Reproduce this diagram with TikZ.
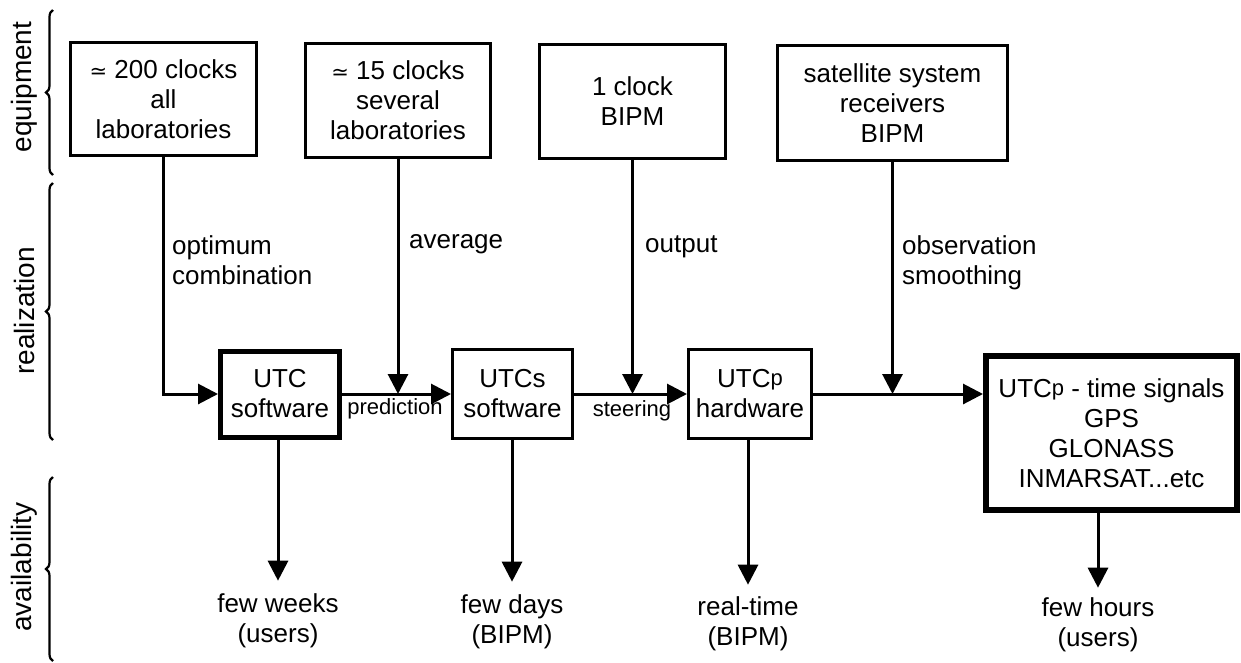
\documentclass[tikz,border=0pt]{standalone}
\usepackage{fontspec}
\setmainfont{Liberation Sans}
\newfontfamily\symfont{DejaVu Sans}
\usetikzlibrary{arrows.meta,decorations.pathreplacing,calc}
\newcommand{\apx}{{\symfont\fontsize{21}{21}\selectfont ≃}}
\newcommand{\subp}{\raisebox{2pt}{\fontsize{22}{22}\selectfont p}}
\begin{document}
\begin{tikzpicture}[x=1pt,y=-1pt,
  box/.style={draw, line width=3pt, align=center, inner sep=0pt, font=\fontsize{26}{30}\selectfont},
  thickbox/.style={box, line width=5pt},
  lbl/.style={inner sep=0pt, align=left, anchor=west, font=\fontsize{26}{30}\selectfont},
  small/.style={inner sep=0pt, font=\fontsize{22}{26}\selectfont},
  outlbl/.style={inner sep=0pt, align=center, font=\fontsize{26}{30}\selectfont},
  side/.style={inner sep=0pt, rotate=90, font=\fontsize{28}{30}\selectfont},
  arr/.style={line width=3pt, -{Triangle[length=20pt,width=20pt]}},
  brc/.style={line width=2.2pt, decorate, decoration={brace, amplitude=7pt}}
]
\useasboundingbox (0,0) rectangle (1241,662);
\fill[white] (0,0) rectangle (1241,662);

% side labels
\node[side] (s1) at (24,87) {equipment};
\node[side] (s2) at (24,311) {realization};
\node[side] (s3) at (24,567) {availability};
\coordinate (e1a) at (53,175); \coordinate (e1b) at (53,10);
\coordinate (e2a) at (53,440); \coordinate (e2b) at (53,183);
\coordinate (e3a) at (53,661); \coordinate (e3b) at (53,477);
\draw[brc] (e1a) -- (e1b);
\draw[brc] (e2a) -- (e2b);
\draw[brc] (e3a) -- (e3b);

% top boxes
\node[box, minimum width=186pt, minimum height=113pt] (b1) at (163.5,99) {\apx\ 200 clocks\\all\\laboratories};
\node[box, minimum width=185pt, minimum height=114pt] (b2) at (398,100.5) {\apx\ 15 clocks\\several\\laboratories};
\node[box, minimum width=186pt, minimum height=114pt] (b3) at (632.5,101.5) {1 clock\\BIPM};
\node[box, minimum width=230pt, minimum height=115pt] (b4) at (892.5,103) {satellite system\\receivers\\BIPM};

% lower boxes
\node[thickbox, minimum width=119pt, minimum height=86pt] (utc) at (280,394) {UTC\\software};
\node[box, minimum width=120pt, minimum height=89pt] (utcs) at (512.5,394) {UTCs\\software};
\node[box, minimum width=123pt, minimum height=89pt] (utcp) at (750,394) {UTC\subp\\hardware};
\node[box, line width=6pt, minimum width=251pt, minimum height=154pt] (big) at (1111.5,433) {UTC\subp\ - time signals\\GPS\\GLONASS\\INMARSAT...etc};

% merge points
\coordinate (m1) at (b2.south |- utc.east);
\coordinate (m2) at (b3.south |- utcs.east);
\coordinate (m3) at (b4.south |- utcp.east);

% feeders
\draw[arr] (b1.south) |- (utc.west);
\draw[arr] (b2.south) -- (m1);
\draw[arr] (b3.south) -- (m2);
\draw[arr] (b4.south) -- (m3);

% labels on feeders
\node[lbl] (l1) at (172,260) {optimum\\combination};
\node[lbl] (l2) at (409,244) {average};
\node[lbl] (l3) at (645,247) {output};
\node[lbl] (l4) at (902,263) {observation\\smoothing};

% main chain
\draw[arr] (utc.east) -- (utcs.west);
\draw[arr] (utcs.east) -- (utcp.west);
\draw[arr] (utcp.east) -- (utcp.east -| big.west);
\node[small] (p1) at (395,409) {prediction};
\node[small] (p2) at (632,411) {steering};

% outputs
\node[outlbl] (o1) at (278,621) {few weeks\\(users)};
\node[outlbl] (o2) at (512,622) {few days\\(BIPM)};
\node[outlbl] (o3) at (748,624) {real-time\\(BIPM)};
\node[outlbl] (o4) at (1098,625) {few hours\\(users)};
\draw[arr, shorten >=13pt] (o1.north |- utc.south) -- (o1.north);
\draw[arr, shorten >=13pt] (o2.north |- utcs.south) -- (o2.north);
\draw[arr, shorten >=12pt] (o3.north |- utcp.south) -- (o3.north);
\draw[arr, shorten >=10pt] (o4.north |- big.south) -- (o4.north);
\end{tikzpicture}
\end{document}
